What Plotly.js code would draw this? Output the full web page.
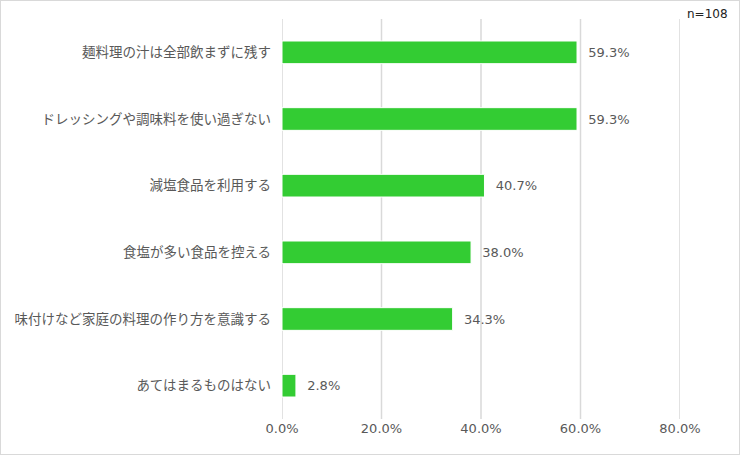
<!DOCTYPE html>
<html><head><meta charset="utf-8">
<script src="https://cdn.plot.ly/plotly-3.0.1.min.js"></script>
<style>html,body{margin:0;padding:0;background:#fff}#c{width:738px;height:453px;border:1px solid #d9d9d9}</style>
</head><body><div id="c"></div>
<script>
const categories = ["麺料理の汁は全部飲まずに残す","ドレッシングや調味料を使い過ぎない","減塩食品を利用する","食塩が多い食品を控える","味付けなど家庭の料理の作り方を意識する","あてはまるものはない"];
const values = [59.3, 59.3, 40.7, 38.0, 34.3, 2.8];
const tickVals = [0, 20, 40, 60, 80];
const tickText = ["0.0%","20.0%","40.0%","60.0%","80.0%"];
const sampleNote = "n=108";

const font = "DejaVu Sans, Noto Sans CJK JP, sans-serif";
const gridShapes = tickVals.map(v => ({type: 'line', xref: 'x', yref: 'paper', x0: v, x1: v, y0: 0, y1: 1, layer: 'below', line: {color: '#d9d9d9', width: 1.5}}));
Plotly.newPlot('c', [{
  type: 'bar', orientation: 'h',
  y: categories, x: values,
  marker: {color: '#33cc33', line: {color: '#ffffff', width: 1}},
  width: 0.34,
  text: values.map(v => '\u00a0\u00a0' + v.toFixed(1) + '%'),
  textposition: 'outside', cliponaxis: false,
  textfont: {family: font, size: 13, color: '#595959'},
  hoverinfo: 'none'
}], {
  width: 738, height: 453,
  margin: {l: 281, r: 59, t: 18, b: 35},
  paper_bgcolor: '#fff', plot_bgcolor: 'rgba(0,0,0,0)',
  showlegend: false,
  font: {family: font, size: 13, color: '#595959'},
  shapes: gridShapes,
  xaxis: {range: [0, 80], tickvals: tickVals, ticktext: tickText, showgrid: false, zeroline: false, showline: false, ticks: '', tickfont: {family: font, size: 13, color: '#595959'}},
  yaxis: {autorange: 'reversed', showgrid: false, zeroline: false, showline: false, ticks: '', ticklabelstandoff: 10, tickfont: {family: "Noto Sans CJK JP, sans-serif", size: 13.5, color: '#595959'}},
  annotations: [{xref: 'paper', yref: 'paper', x: 1.068, y: 1.035, xanchor: 'center', yanchor: 'top', text: sampleNote, showarrow: false, font: {family: font, size: 12, color: '#222'}}]
}, {staticPlot: true});
</script></body></html>
